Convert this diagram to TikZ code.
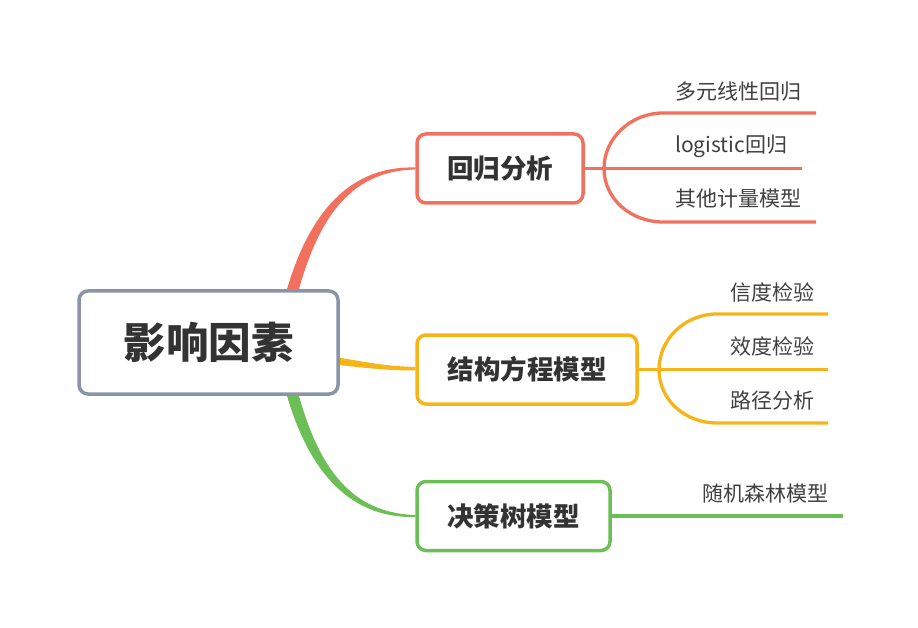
\documentclass[tikz,border=0pt]{standalone}
\usepackage{fontspec}
\setmainfont{Noto Sans CJK SC}
\usetikzlibrary{calc,backgrounds}
\definecolor{cred}{RGB}{242,112,94}
\definecolor{corange}{RGB}{247,180,24}
\definecolor{cgreen}{RGB}{108,190,86}
\definecolor{cgray}{RGB}{138,148,166}
\definecolor{ctext}{RGB}{51,51,51}
\definecolor{csub}{RGB}{64,64,64}
\tikzset{
  rootbox/.style={draw=cgray, line width=3.5pt, rounded corners=9pt, fill=white,
    minimum width=259pt, minimum height=103pt, inner sep=0pt,
    font=\fontsize{42.5}{43}\selectfont\bfseries, text=ctext},
  topicbox/.style={line width=3.5pt, rounded corners=9pt, fill=white,
    minimum height=69pt, inner sep=0pt,
    font=\fontsize{26.5}{27}\selectfont\bfseries, text=ctext},
  sublabel/.style={anchor=west, inner sep=0pt, font=\fontsize{21}{21}\selectfont, text=csub},
  subline/.style={line width=3.3pt, line cap=butt},
}
\begin{document}
\begin{tikzpicture}[x=1pt,y=-1pt]
\useasboundingbox (0,0) rectangle (918,628);
% nodes
\node[rootbox] (root) at (208.5,342.5) {影响因素};
\node[topicbox, draw=cred, minimum width=166pt] (b1) at (500,168.5) {回归分析};
\node[topicbox, draw=corange, minimum width=220pt] (b2) at (527,369.5) {结构方程模型};
\node[topicbox, draw=cgreen, minimum width=193pt] (b3) at (513.5,516) {决策树模型};

% sub labels
\node[sublabel] (s11) at (675,92) {多元线性回归};
\node[sublabel] (s12) at (675,146) {logistic回归};
\node[sublabel] (s13) at (675,199) {其他计量模型};
\node[sublabel] (s21) at (730,292) {信度检验};
\node[sublabel] (s22) at (730,346) {效度检验};
\node[sublabel] (s23) at (730,401) {路径分析};
\node[sublabel] (s31) at (702,494) {随机森林模型};

% coordinates
\coordinate (f1) at (604,168.5);
\coordinate (e11) at (816,113);
\coordinate (e12) at (802,168.5);
\coordinate (e13) at (816,222);
\coordinate (f2) at (659,369.5);
\coordinate (e21) at (828,314);
\coordinate (e22) at (828,369.5);
\coordinate (e23) at (828,423);
\coordinate (m3) at (690,516);
\coordinate (e31) at (843,516);

\begin{scope}[on background layer]
% main branches (tapered)
\fill[cred] (284,300) .. controls (305,220) and (345,165.5) .. ($(b1.west)+(0,-1)$)
  -- ($(b1.west)+(0,1)$) .. controls (347,171) and (316,223) .. (296,300) -- cycle;
\fill[corange] (300,352) .. controls (350,358) and (375,366) .. ($(b2.west)+(0,-2.5)$)
  -- ($(b2.west)+(0,1)$) .. controls (375,370.5) and (350,365.5) .. (300,361) -- cycle;
\fill[cgreen] (284,385) .. controls (305,465) and (345,518.5) .. ($(b3.west)+(0,1)$)
  -- ($(b3.west)+(0,-1)$) .. controls (347,513) and (316,462) .. (296,385) -- cycle;

% sub branches
\draw[subline, cred] (b1.east) -- (e12);
\draw[subline, cred] (f1) .. controls (604,138) and (631,113) .. (663,113) -- (e11);
\draw[subline, cred] (f1) .. controls (604,199) and (631,222) .. (663,222) -- (e13);
\draw[subline, corange] (b2.east) -- (e22);
\draw[subline, corange] (f2) .. controls (659,339) and (685,314) .. (717,314) -- (e21);
\draw[subline, corange] (f2) .. controls (659,400) and (685,423) .. (717,423) -- (e23);
\draw[subline, cgreen] (b3.east) -- (m3);
\draw[line width=4.5pt, cgreen] (m3) -- (e31);
\end{scope}
\end{tikzpicture}
\end{document}
